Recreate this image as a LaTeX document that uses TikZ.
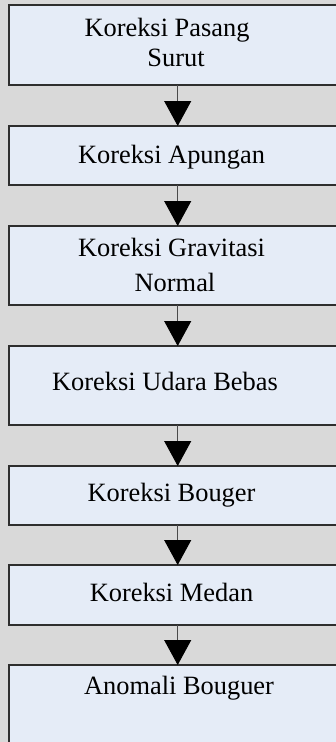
\documentclass[tikz,border=0pt]{standalone}
\usepackage{fontspec}
\setmainfont{Liberation Serif}
\usetikzlibrary{arrows.meta}
\definecolor{pagegray}{HTML}{D9D9D9}
\definecolor{boxfill}{HTML}{E5ECF7}
\definecolor{boxline}{HTML}{2E2E2E}
\definecolor{linkline}{HTML}{4A4A4A}
\tikzset{
  stepbox/.style={draw=boxline, line width=1.3pt, fill=boxfill, rectangle,
    minimum width=337.4pt, inner sep=0pt, outer sep=0pt},
  steptext/.style={anchor=base, inner sep=0pt, font=\fontsize{26.4}{30}\selectfont},
  link/.style={draw=linkline, line width=0.9pt,
    -{Triangle[width=27pt,length=25pt,fill=black,color=black]}},
}
\begin{document}
\begin{tikzpicture}[x=1pt,y=1pt]
  \useasboundingbox (0,0) rectangle (336,-742);
  \clip (0,0) rectangle (336,-742);
  \fill[pagegray] (0,0) rectangle (336,-742);

  % boxes: top and bottom edges
  \node[stepbox, minimum height=80pt, anchor=north west] (b1) at (9,-5) {};
  \node[stepbox, minimum height=59pt, anchor=north west] (b2) at (9,-126) {};
  \node[stepbox, minimum height=79pt, anchor=north west] (b3) at (9,-226) {};
  \node[stepbox, minimum height=79pt, anchor=north west] (b4) at (9,-346) {};
  \node[stepbox, minimum height=59pt, anchor=north west] (b5) at (9,-466) {};
  \node[stepbox, minimum height=60pt, anchor=north west] (b6) at (9,-565) {};
  \node[stepbox, minimum height=110pt, anchor=north west] (b7) at (9,-665) {};

  % labels
  \node[steptext] (t1a) at (167,-36) {Koreksi Pasang};
  \node[steptext] (t1b) at (176,-66.7) {Surut};
  \node[steptext] (t2) at (171.5,-163) {Koreksi Apungan};
  \node[steptext] (t3a) at (171.5,-256.7) {Koreksi Gravitasi};
  \node[steptext] (t3b) at (175,-291.7) {Normal};
  \node[steptext] (t4) at (165,-390) {Koreksi Udara Bebas};
  \node[steptext] (t5) at (171.5,-501.7) {Koreksi Bouger};
  \node[steptext] (t6) at (171.5,-601.7) {Koreksi Medan};
  \node[steptext] (t7) at (179,-694) {Anomali Bouguer};

  % connectors
  \draw[link] (b1.south) -- (b2.north);
  \draw[link] (b2.south) -- (b3.north);
  \draw[link] (b3.south) -- (b4.north);
  \draw[link] (b4.south) -- (b5.north);
  \draw[link] (b5.south) -- (b6.north);
  \draw[link] (b6.south) -- (b7.north);
\end{tikzpicture}
\end{document}
